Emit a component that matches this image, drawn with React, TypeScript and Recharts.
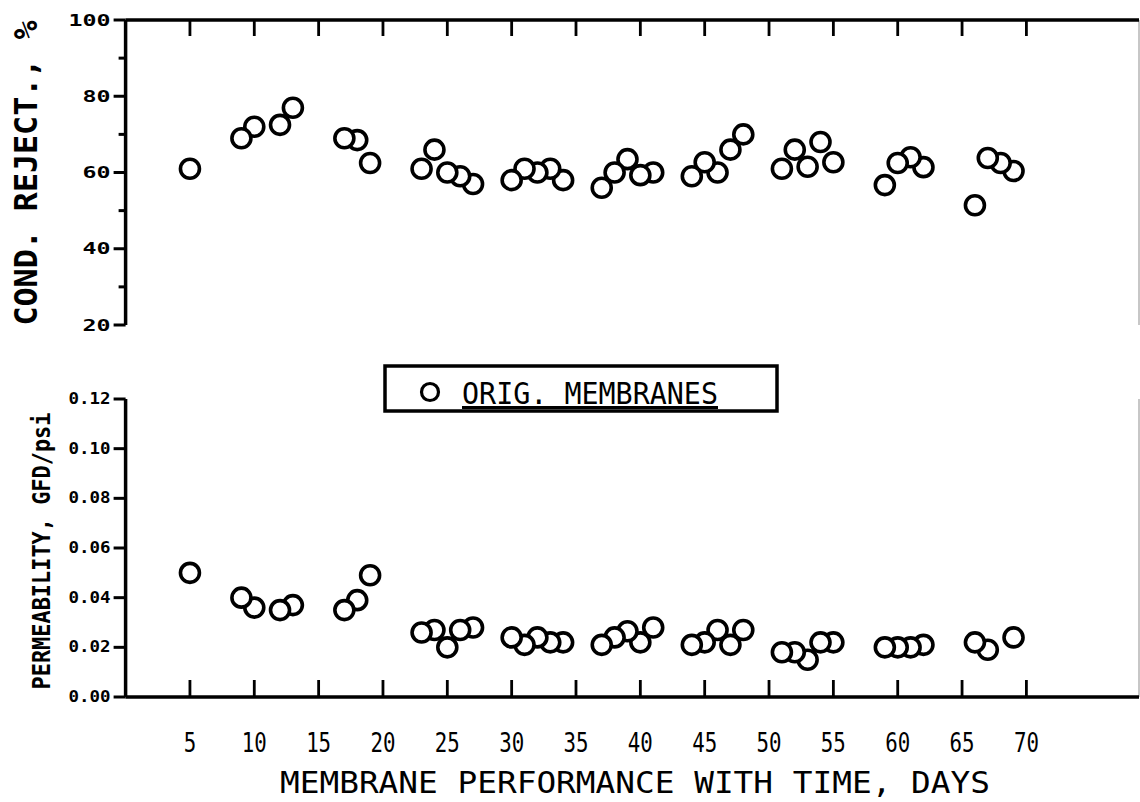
import React from 'react';
import { ScatterChart, Scatter, XAxis, YAxis, ReferenceLine, Label } from 'recharts';

// ---- data ----
const xTickValues = [5, 10, 15, 20, 25, 30, 35, 40, 45, 50, 55, 60, 65, 70];
const topYTickValues = [20, 30, 40, 50, 60, 70, 80, 90, 100];
const bottomYTickValues = [0, 0.02, 0.04, 0.06, 0.08, 0.1, 0.12];

const rejectDays = [5, 9, 10, 12, 13, 17, 18, 19, 23, 24, 25, 26, 27, 30, 31, 32, 33, 34, 37, 38, 39, 40, 41, 44, 45, 46, 47, 48, 51, 52, 53, 54, 55, 59, 60, 61, 62, 66, 67, 68, 69];
const rejectValues = [61, 69, 72, 72.5, 77, 69, 68.5, 62.5, 61, 66, 60, 59, 57, 58, 61, 60, 61, 58, 56, 60, 63.5, 59.3, 60, 59, 62.7, 60, 66, 70, 61, 66, 61.5, 68, 62.7, 56.7, 62.5, 64, 61.4, 51.4, 63.8, 62.5, 60.4];

const permDays = [5, 9, 10, 12, 13, 17, 18, 19, 23, 24, 25, 26, 27, 30, 31, 32, 33, 34, 37, 38, 39, 40, 41, 44, 45, 46, 47, 48, 51, 52, 53, 54, 55, 59, 60, 61, 62, 66, 67, 69];
const permValues = [0.05, 0.04, 0.036, 0.035, 0.037, 0.035, 0.039, 0.049, 0.026, 0.027, 0.02, 0.027, 0.028, 0.024, 0.021, 0.024, 0.022, 0.022, 0.021, 0.024, 0.0265, 0.022, 0.028, 0.021, 0.022, 0.027, 0.021, 0.027, 0.018, 0.018, 0.015, 0.022, 0.022, 0.02, 0.02, 0.02, 0.021, 0.022, 0.019, 0.024];

const X_MAX = 78.75;
const TOP_Y = [20, 100];
const BOTTOM_Y = [0, 0.12];
const MONO = '"DejaVu Sans Mono", "Liberation Mono", monospace';

// layout constants shared by the charts and the tick overlay
const CHART_W = 1140;
const Y_AXIS_W = 125.6;
const RIGHT_M = 1;
const PLOT_W = CHART_W - Y_AXIS_W - RIGHT_M;
const TOP_PLOT_TOP = 20;
const BOTTOM_CHART_TOP = 340;
const BOTTOM_PLOT_BOTTOM = 697;

// earlier points drawn on top (as in the plotter output)
const rejectData = rejectDays.map((d, i) => ({ day: d, value: rejectValues[i] })).reverse();
const permData = permDays.map((d, i) => ({ day: d, value: permValues[i] })).reverse();

const Marker = (props: any) => (
  <circle cx={props.cx} cy={props.cy} r={9.5} fill="#fff" stroke="#000" strokeWidth={3.6} />
);

const BottomXTick = (props: any) => {
  const { x, y, payload } = props;
  const s = String(payload.value);
  return (
    <text x={x} y={y + 55} textAnchor="middle" fontFamily={MONO} fontSize={26} fill="#000"
      textLength={s.length * 12.5} lengthAdjust="spacingAndGlyphs">{s}</text>
  );
};

const TopYTick = (props: any) => {
  const { x, y, payload } = props;
  const v = payload.value;
  const major = v % 20 === 0;
  const s = String(v);
  return (
    <g>
      <line x1={x - (major ? 12 : 7)} x2={x} y1={y} y2={y} stroke="#000" strokeWidth={3} />
      {major && (
        <text x={x - 15} y={y + 5.5} textAnchor="end" fontFamily={MONO} fontWeight="bold" fontSize={16} fill="#000"
          textLength={s.length * 14} lengthAdjust="spacingAndGlyphs">{s}</text>
      )}
    </g>
  );
};

const BottomYTick = (props: any) => {
  const { x, y, payload } = props;
  const s = Number(payload.value).toFixed(2);
  return (
    <g>
      <line x1={x - 12} x2={x} y1={y} y2={y} stroke="#000" strokeWidth={3} />
      <text x={x - 15} y={y + 5} textAnchor="end" fontFamily={MONO} fontWeight="bold" fontSize={15} fill="#000"
        textLength={42} lengthAdjust="spacingAndGlyphs">{s}</text>
    </g>
  );
};

const TopYTitle = () => (
  <text x={37} y={173} transform="rotate(-90 37 173)" textAnchor="middle" fontFamily={MONO}
    fontWeight="bold" fontSize={32} fill="#000" textLength={305} lengthAdjust="spacingAndGlyphs">
    COND. REJECT., %
  </text>
);

const BottomYTitle = () => (
  <text x={50} y={211} transform="rotate(-90 50 211)" textAnchor="middle" fontFamily={MONO}
    fontWeight="bold" fontSize={24} fill="#000" textLength={277} lengthAdjust="spacingAndGlyphs">
    PERMEABILITY, GFD/psi
  </text>
);

const XTitle = () => (
  <text x={635} y={453} textAnchor="middle" fontFamily={MONO} fontSize={31} fill="#000"
    textLength={710} lengthAdjust="spacingAndGlyphs">
    MEMBRANE PERFORMANCE WITH TIME, DAYS
  </text>
);

const AXIS = { stroke: '#000', strokeWidth: 3.5 };

// inward tick marks of both x axes, placed with the same linear mapping as the charts' x domain
const tickX = (t: number) => Y_AXIS_W + (t / X_MAX) * PLOT_W;
const topTickPath = xTickValues.map((t) => `M${tickX(t) - 1.4},${TOP_PLOT_TOP}h2.8v16h-2.8z`).join('');
const bottomTickPath = xTickValues.map((t) => `M${tickX(t) - 1.4},${BOTTOM_PLOT_BOTTOM - 17}h2.8v17h-2.8z`).join('');

export default function App() {
  return (
    <div style={{ position: 'absolute', left: 0, top: 0, width: 1140, height: 802, background: '#fff', overflow: 'hidden' }}>
      <div style={{ position: 'absolute', left: 0, top: 0 }}>
        <ScatterChart width={CHART_W} height={340} margin={{ top: TOP_PLOT_TOP - 1, right: RIGHT_M, bottom: 15, left: 0 }}>
          <XAxis type="number" dataKey="day" orientation="top" domain={[0, X_MAX]} ticks={xTickValues}
            height={1} tick={false} tickLine={false} axisLine={AXIS} />
          <YAxis type="number" dataKey="value" domain={TOP_Y} ticks={topYTickValues} width={Y_AXIS_W}
            tickSize={0} tickMargin={0} tick={<TopYTick />} tickLine={false} interval={0}
            axisLine={AXIS}>
            <Label content={<TopYTitle />} />
          </YAxis>
          <ReferenceLine x={X_MAX} stroke="#b5b5b5" strokeWidth={1.5} />
          <Scatter data={rejectData} shape={<Marker />} isAnimationActive={false} />
        </ScatterChart>
      </div>
      <div style={{ position: 'absolute', left: 0, top: BOTTOM_CHART_TOP }}>
        <ScatterChart width={CHART_W} height={462} margin={{ top: 59, right: RIGHT_M, bottom: 0, left: 0 }}>
          <XAxis type="number" dataKey="day" orientation="bottom" domain={[0, X_MAX]} ticks={xTickValues}
            height={105} tickSize={0} tickMargin={0} tick={<BottomXTick />} tickLine={false} interval={0}
            axisLine={AXIS}>
            <Label content={<XTitle />} />
          </XAxis>
          <YAxis type="number" dataKey="value" domain={BOTTOM_Y} ticks={bottomYTickValues} width={Y_AXIS_W}
            tickSize={0} tickMargin={0} tick={<BottomYTick />} tickLine={false} interval={0}
            axisLine={AXIS}>
            <Label content={<BottomYTitle />} />
          </YAxis>
          <ReferenceLine x={X_MAX} stroke="#b5b5b5" strokeWidth={1.5} />
          <Scatter data={permData} shape={<Marker />} isAnimationActive={false} />
        </ScatterChart>
      </div>
      <svg width={1140} height={802} style={{ position: 'absolute', left: 0, top: 0, pointerEvents: 'none' }}>
        <path d={topTickPath} fill="#000" />
        <path d={bottomTickPath} fill="#000" />
      </svg>
      <svg width={396} height={50} style={{ position: 'absolute', left: 383, top: 364 }}>
        <rect x={2} y={2} width={392} height={45} fill="#fff" stroke="#000" strokeWidth={3.5} />
        <circle cx={47} cy={28} r={8.5} fill="#fff" stroke="#000" strokeWidth={3.2} />
        <text x={79} y={40} fontFamily={MONO} fontSize={30} fill="#000" textDecoration="underline"
          textLength={256} lengthAdjust="spacingAndGlyphs">ORIG. MEMBRANES</text>
      </svg>
    </div>
  );
}
